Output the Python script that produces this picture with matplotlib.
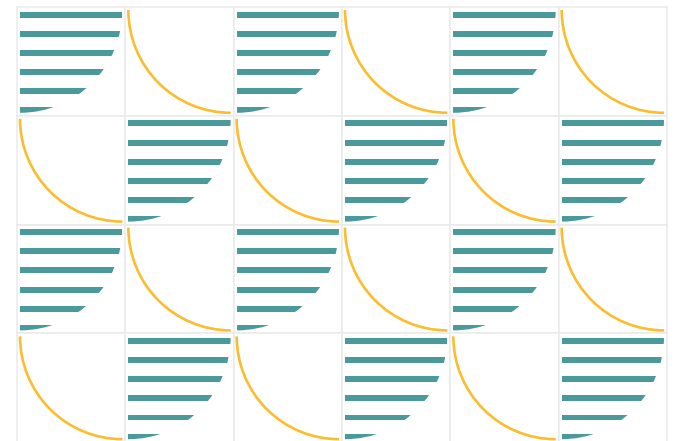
import matplotlib
matplotlib.use("Agg")
from matplotlib import pyplot as plt
from matplotlib.patches import Arc, Circle

# which tile sits in each cell of the grid
cell_kind = [
    ["bars", "arc", "bars", "arc", "bars", "arc"],
    ["arc", "bars", "arc", "bars", "arc", "bars"],
    ["bars", "arc", "bars", "arc", "bars", "arc"],
    ["arc", "bars", "arc", "bars", "arc", "bars"],
]

# stripes inside a "bars" tile (0 = top of the tile, 1 = bottom)
stripe_pos = [0.045, 0.231, 0.417, 0.603, 0.789, 0.975]
stripe_len = [1.0, 1.0, 1.0, 1.0, 1.0, 1.0]

TEAL = "#4b9a9b"
GOLD = "#fbbd2d"
BORDER = "#ebebeb"

W, H = 691, 441
left_px, top_px = 17, 7
cell_w = 650 / 6
cell_h = 108.8

fig = plt.figure(figsize=(W / 100, H / 100), dpi=100)
fig.patch.set_facecolor("white")

for r, row in enumerate(cell_kind):
    for c, kind in enumerate(row):
        x0 = (left_px + c * cell_w) / W
        y0 = 1 - (top_px + (r + 1) * cell_h) / H
        ax = fig.add_axes([x0, y0, cell_w / W, cell_h / H])
        padx = 3 / (cell_w - 6)
        pady = 3 / (cell_h - 6)
        ax.set_xlim(-padx, 1 + padx)
        ax.set_ylim(1 + pady, -pady)
        ax.set_xticks([])
        ax.set_yticks([])
        for s in ax.spines.values():
            s.set_color(BORDER)
            s.set_linewidth(1.1)

        if kind == "bars":
            bars = ax.barh(stripe_pos, stripe_len, height=0.058, left=0,
                           color=TEAL, linewidth=0)
            clip = Circle((0, 0), 1, transform=ax.transData)
            for b in bars:
                b.set_clip_path(clip)
        else:
            ax.add_patch(Arc((1, 0), 2, 2, theta1=90, theta2=180,
                             color=GOLD, linewidth=1.9, capstyle="butt"))

fig.savefig("out.png", dpi=100, facecolor="white")
